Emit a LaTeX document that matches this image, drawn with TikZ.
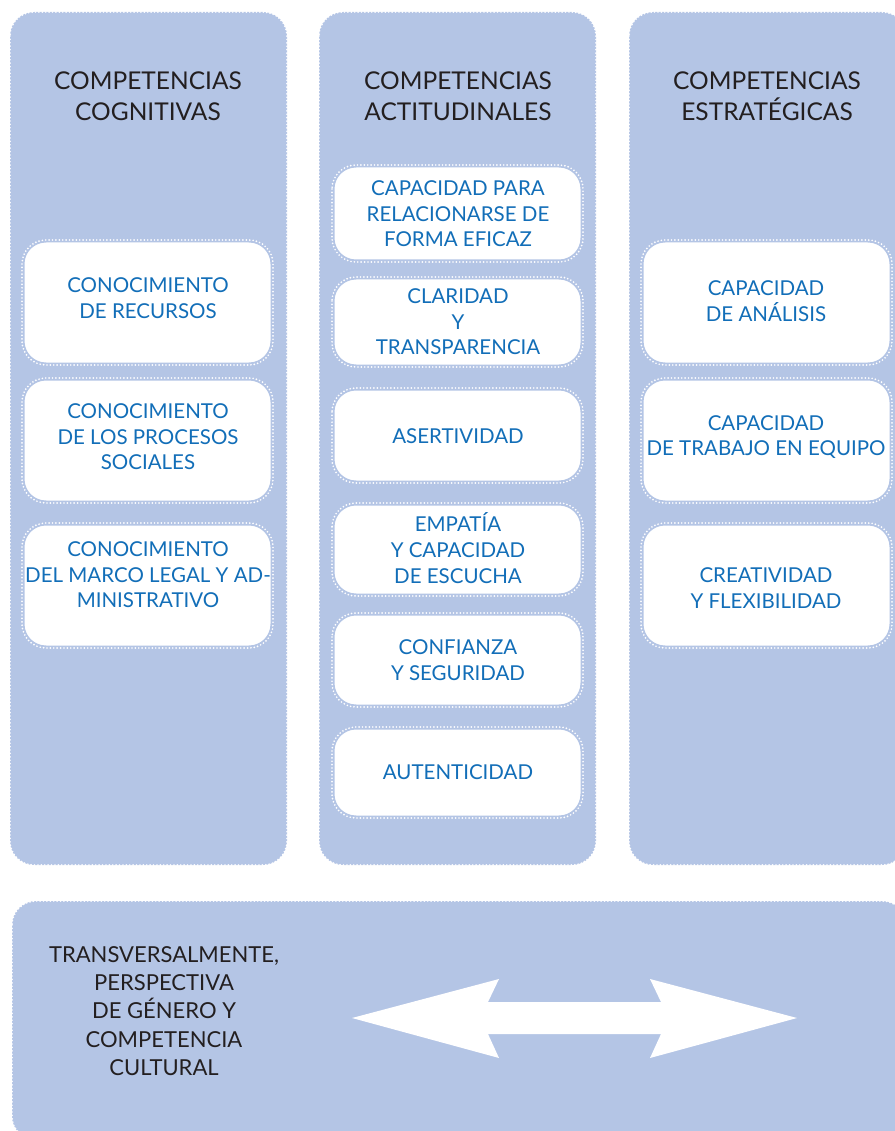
\documentclass[tikz,border=0pt]{standalone}
\usepackage{fontspec}
\setmainfont{Lato}
\definecolor{panelblue}{RGB}{180,197,229}
\definecolor{itemblue}{RGB}{18,110,184}
\definecolor{ink}{RGB}{35,31,32}
\tikzset{
  dotline/.style={draw=white, line width=1.9pt, line cap=round, dash pattern=on 0pt off 3.4pt},
  panel/.style={dotline, fill=panelblue, rounded corners=24pt},
  inbox/.style={dotline, rounded corners=24pt, preaction={fill=white, draw=panelblue, solid, line width=5pt}},
  ttl/.style={font=\fontsize{24.5}{31}\selectfont, text=ink, align=center, inner sep=0pt},
  itm/.style={font=\fontsize{20.5}{25.6}\selectfont, text=itemblue, align=center, inner sep=0pt},
  btm/.style={font=\fontsize{22}{28.4}\selectfont, text=ink, align=center, inner sep=0pt}
}
\begin{document}
\begin{tikzpicture}[x=1pt,y=-1pt]
\useasboundingbox (0,0) rectangle (894,1131);

\begin{scope}
\draw[panel] (10,12) rectangle (287,865);
\draw[inbox] (22,240) rectangle (273,365);
\draw[inbox] (22,378) rectangle (273,503);
\draw[inbox] (22,523) rectangle (273,648);

\node[ttl] (cogtit) at (148,96) {COMPETENCIAS\\COGNITIVAS};
\node[itm] (recursos) at (148,298) {CONOCIMIENTO\\DE RECURSOS};
\node[itm] (procesos) at (148,437) {CONOCIMIENTO\\DE LOS PROCESOS\\SOCIALES};
\node[itm] (marco) at (148,575) {CONOCIMIENTO\\DEL MARCO LEGAL Y AD-\\MINISTRATIVO};
\end{scope}

\begin{scope}
\draw[panel] (319,12) rectangle (596,865);
\draw[inbox] (332,165) rectangle (583,262);
\draw[inbox] (332,277) rectangle (583,367);
\draw[inbox] (332,388) rectangle (583,483);
\draw[inbox] (332,503) rectangle (583,596);
\draw[inbox] (332,613) rectangle (583,707);
\draw[inbox] (332,727) rectangle (583,818);

\node[ttl] (acttit) at (458,96) {COMPETENCIAS\\ACTITUDINALES};
\node[itm] (relacion) at (458,214) {CAPACIDAD PARA\\RELACIONARSE DE\\FORMA EFICAZ};
\node[itm] (claridad) at (458,322) {CLARIDAD\\Y\\TRANSPARENCIA};
\node[itm] (asert) at (458,436) {ASERTIVIDAD};
\node[itm] (empatia) at (458,548) {EMPATÍA\\Y CAPACIDAD\\DE ESCUCHA};
\node[itm] (confianza) at (458,660) {CONFIANZA\\Y SEGURIDAD};
\node[itm] (autent) at (458,772) {AUTENTICIDAD};
\end{scope}

\begin{scope}
\draw[panel] (629,12) rectangle (906,865);
\draw[inbox] (641,240) rectangle (892,365);
\draw[inbox] (641,378) rectangle (892,503);
\draw[inbox] (641,523) rectangle (892,648);

\node[ttl] (esttit) at (767,96) {COMPETENCIAS\\ESTRATÉGICAS};
\node[itm] (analisis) at (766,301) {CAPACIDAD\\DE ANÁLISIS};
\node[itm] (equipo) at (766,437) {CAPACIDAD\\DE TRABAJO EN EQUIPO};
\node[itm] (creat) at (766,588) {CREATIVIDAD\\Y FLEXIBILIDAD};
\end{scope}

\begin{scope}
\coordinate (lt) at (352,1018);
\coordinate (rt) at (797,1018);
\coordinate (lu) at (499,979);
\coordinate (ld) at (499,1058);
\coordinate (ru) at (650,979);
\coordinate (rd) at (650,1058);

\draw[panel] (12,901) rectangle (906,1140);
\fill[white] (lt) -- (lu) -- (488,1002) -- (661,1002) -- (ru) -- (rt) -- (rd) -- (661,1034) -- (488,1034) -- (ld) -- cycle;
\node[btm] (transv) at (164,1011) {TRANSVERSALMENTE,\\PERSPECTIVA\\DE GÉNERO Y\\COMPETENCIA\\CULTURAL};
\end{scope}

\end{tikzpicture}
\end{document}
